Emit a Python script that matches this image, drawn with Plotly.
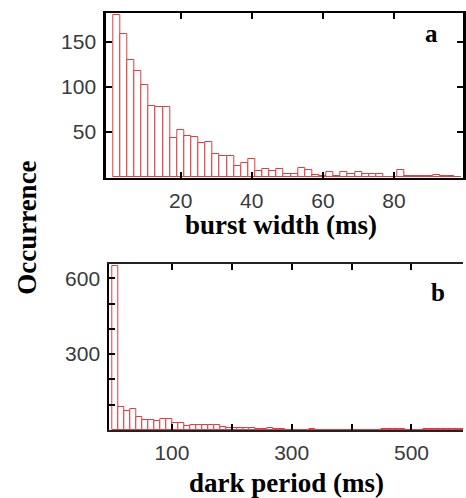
import plotly.graph_objects as go

# ---- data ----
# (a) burst width histogram, 2 ms bins, bin centres
burst_centers = [2 * k for k in range(1, 50)]
burst_counts = [180, 159, 130, 117, 102, 79, 78, 78, 43, 52,
                45, 44, 37, 38, 25, 23, 23, 12, 15, 20,
                6, 8, 6, 8, 3, 3, 10, 7, 2, 1,
                5, 1, 5, 3, 5, 3, 3, 3, 0, 0,
                7, 1, 1, 1, 1, 2, 1, 1, 0]
burst_ticks = [20, 40, 60, 80]
burst_yticks = [50, 100, 150]

# (b) dark period histogram, 10 ms bins, bin centres
dark_centers = [5 + 10 * k for k in range(59)]
dark_counts = [650, 91, 74, 84, 52, 39, 40, 33, 44, 42,
               26, 26, 16, 20, 20, 20, 20, 20, 12, 8,
               6, 6, 5, 5, 3, 3, 6, 2, 2, 1,
               1, 1, 1, 2, 1, 1, 1, 1, 1, 1,
               1, 1, 1, 1, 1, 2, 2, 2, 2, 1,
               1, 1, 2, 2, 2, 2, 2, 2, 2]
dark_ticks = [100, 200, 300, 400, 500]
dark_ticktext = ["100", "", "300", "", "500"]
dark_yticks = [100, 200, 300, 400, 500, 600]
dark_yticktext = ["", "", "300", "", "", "600"]

W, H = 466, 498


def px(X):
    return X / W


def py(Y):
    return 1 - Y / H


bar_line = "rgb(222,62,66)"
tickfont = dict(family="Liberation Sans, Arial, sans-serif", size=21, color="#3a3a3a")
titlefont = dict(family="Liberation Serif, Times New Roman, serif", size=27, color="black")
labelfont = dict(family="Liberation Serif, Times New Roman, serif", size=25, color="black")

fig = go.Figure()
fig.add_trace(go.Bar(x=burst_centers, y=burst_counts, width=2,
                     marker=dict(color="white", line=dict(color=bar_line, width=1)),
                     xaxis="x", yaxis="y", showlegend=False))
fig.add_trace(go.Bar(x=dark_centers, y=dark_counts, width=10,
                     marker=dict(color="white", line=dict(color=bar_line, width=1)),
                     xaxis="x2", yaxis="y2", showlegend=False))

fig.update_layout(
    width=W, height=H,
    margin=dict(l=0, r=0, t=0, b=0),
    paper_bgcolor="white", plot_bgcolor="white",
    bargap=0,
    xaxis=dict(domain=[px(107), 1], range=[-0.9, 99.4],
               tickvals=burst_ticks, ticks="inside", ticklen=6, tickwidth=2,
               tickcolor="black", showline=True, linewidth=2, linecolor="black",
               mirror="ticks", showgrid=False, zeroline=False, tickfont=tickfont,
               ticklabelstandoff=3, anchor="y"),
    yaxis=dict(domain=[py(178), py(13)], range=[-1.5, 182],
               tickvals=burst_yticks, ticks="inside", ticklen=6, tickwidth=2,
               tickcolor="black", showline=True, linewidth=3, linecolor="black",
               mirror="ticks", showgrid=False, zeroline=False, tickfont=tickfont,
               ticklabelstandoff=3, anchor="x"),
    xaxis2=dict(domain=[px(110), 1], range=[-4.5, 586],
                tickvals=dark_ticks, ticktext=dark_ticktext, ticks="inside", ticklen=6,
                tickwidth=2, tickcolor="black", showline=True, linewidth=2,
                linecolor="#222", mirror="ticks", showgrid=False, zeroline=False,
                tickfont=tickfont, ticklabelstandoff=3, anchor="y2"),
    yaxis2=dict(domain=[py(430), py(264)], range=[-1, 657],
                tickvals=dark_yticks, ticktext=dark_yticktext, ticks="inside", ticklen=6,
                tickwidth=2, tickcolor="black", showline=True, linewidth=2,
                linecolor="black", mirror=False, showgrid=False, zeroline=False,
                tickfont=tickfont, ticklabelstandoff=3, anchor="x2"),
    annotations=[
        dict(text="<b>burst width (ms)</b>", x=px(283), y=py(225), xref="paper",
             yref="paper", showarrow=False, font=titlefont, xanchor="center", yanchor="middle"),
        dict(text="<b>dark period (ms)</b>", x=px(288), y=py(483), xref="paper",
             yref="paper", showarrow=False, font=titlefont, xanchor="center", yanchor="middle"),
        dict(text="<b>Occurrence</b>", x=px(27), y=py(228), xref="paper",
             yref="paper", showarrow=False, font=titlefont, textangle=-90,
             xanchor="center", yanchor="middle"),
        dict(text="<b>a</b>", x=px(434), y=py(33), xref="paper", yref="paper",
             showarrow=False, font=labelfont, xanchor="center", yanchor="middle"),
        dict(text="<b>b</b>", x=px(441), y=py(292), xref="paper", yref="paper",
             showarrow=False, font=labelfont, xanchor="center", yanchor="middle"),
    ],
)

# remove the default page margin so the 466x498 figure fills the window exactly
fig.write_html("out.html",
               config={"displayModeBar": False},
               post_script="document.body.style.margin='0';document.body.style.overflow='hidden';")
